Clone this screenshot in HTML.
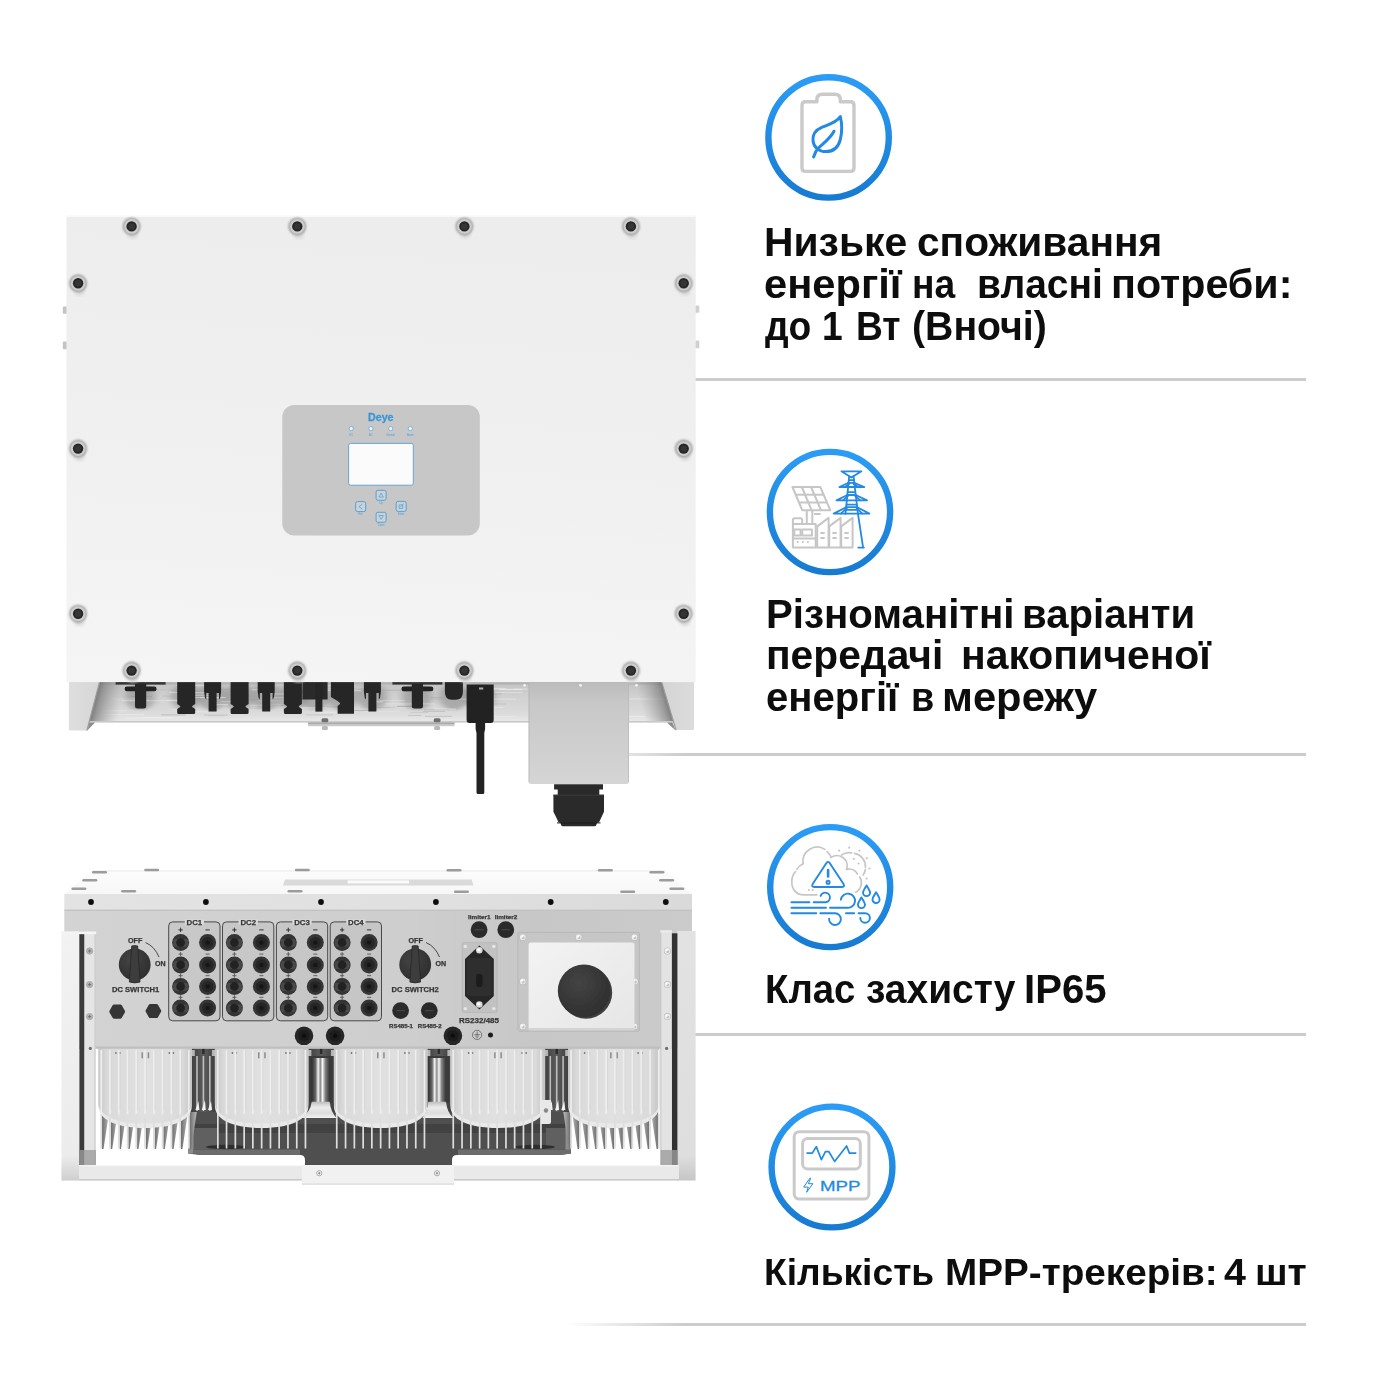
<!DOCTYPE html>
<html lang="uk">
<head>
<meta charset="utf-8">
<title>Deye inverter</title>
<style>
html,body{margin:0;padding:0;background:#fff;}
body{width:1400px;height:1400px;position:relative;overflow:hidden;font-family:"Liberation Sans",sans-serif;}
.ln{position:absolute;left:565px;width:741px;height:3px;background:linear-gradient(90deg,rgba(204,204,204,0) 0,#cccccc 120px,#cccccc 100%);}
.tb{margin:0;padding:0;}
.w{position:absolute;font-weight:bold;font-size:40px;line-height:50px;color:#0d0d0d;white-space:nowrap;transform-origin:0 50%;}
.w.s{font-size:37.5px;}
svg{position:absolute;left:0;top:0;}
</style>
</head>
<body>
<!-- divider lines -->
<div class="ln" style="top:378px"></div>
<div class="ln" style="top:753px"></div>
<div class="ln" style="top:1033px"></div>
<div class="ln" style="top:1323px"></div>

<!-- text -->
<p class="tb">
<span class="w" style="left:764.4px;top:216.7px;transform:scaleX(1.0213)">Низьке</span> 
<span class="w" style="left:917.3px;top:216.7px;transform:scaleX(1.0169)">споживання</span> 
<span class="w" style="left:764.1px;top:258.6px;transform:scaleX(1.0412)">енергії</span> 
<span class="w" style="left:912.1px;top:258.6px;transform:scaleX(0.93)">на</span> 
<span class="w" style="left:976.8px;top:258.6px;transform:scaleX(0.9734)">власні</span> 
<span class="w" style="left:1110.5px;top:258.6px;transform:scaleX(1.0308)">потреби:</span> 
<span class="w" style="left:765.1px;top:300.5px;transform:scaleX(0.93)">до</span> 
<span class="w" style="left:822.4px;top:300.5px;transform:scaleX(0.93)">1</span> 
<span class="w" style="left:855.6px;top:300.5px;transform:scaleX(0.93)">Вт</span> 
<span class="w" style="left:911.9px;top:300.5px;transform:scaleX(0.9806)">(Вночі)</span>
</p>
<p class="tb">
<span class="w" style="left:765.9px;top:588.6px;transform:scaleX(1.0054)">Різноманітні</span> 
<span class="w" style="left:1022.4px;top:588.6px;transform:scaleX(1.0042)">варіанти</span> 
<span class="w" style="left:765.8px;top:630.3px;transform:scaleX(1.0185)">передачі</span> 
<span class="w" style="left:960.9px;top:630.3px;transform:scaleX(1.0223)">накопиченої</span> 
<span class="w" style="left:765.7px;top:672px;transform:scaleX(1.0015)">енергії</span> 
<span class="w" style="left:910.6px;top:672px;transform:scaleX(0.945)">в</span> 
<span class="w" style="left:941.7px;top:672px;transform:scaleX(1.0441)">мережу</span>
</p>
<p class="tb">
<span class="w" style="left:764.9px;top:964px;transform:scaleX(0.9578)">Клас</span> 
<span class="w" style="left:865.7px;top:964px;transform:scaleX(0.9737)">захисту</span> 
<span class="w" style="left:1024.4px;top:964px;transform:scaleX(1.0026)">IP65</span>
</p>
<p class="tb">
<span class="w s" style="left:763.8px;top:1247px;transform:scaleX(0.9916)">Кількість</span> 
<span class="w s" style="left:944.9px;top:1247px;transform:scaleX(1.0314)">MPP-трекерів:</span> 
<span class="w s" style="left:1224.4px;top:1247px;transform:scaleX(1.05)">4</span> 
<span class="w s" style="left:1254.5px;top:1247px;transform:scaleX(1.0435)">шт</span>
</p>

<!-- ICONS -->
<svg id="icons" width="1400" height="1400" viewBox="0 0 1400 1400">
<defs>
<linearGradient id="ring" x1="0" y1="0" x2="0" y2="1"><stop offset="0" stop-color="#2b9cf5"/><stop offset="1" stop-color="#177bd2"/></linearGradient>
</defs>
<g fill="none" stroke="url(#ring)" stroke-width="6.4">
<circle cx="828.6" cy="137.4" r="60.2"/>
<circle cx="830" cy="512" r="60.1"/>
<circle cx="830.2" cy="887.1" r="60"/>
<circle cx="832" cy="1167" r="60.4"/>
</g>
<g id="icon1" fill="none" stroke-linecap="round" stroke-linejoin="round">
<path d="M802 105.2Q802 101.7 805.5 101.7H816.9V99.8Q816.9 94.3 822.4 94.3H834.8Q840.3 94.3 840.3 99.8V101.7H850.5Q854 101.7 854 105.2V167.9Q854 171.4 850.5 171.4H805.5Q802 171.4 802 167.9Z" stroke="#cacaca" stroke-width="3.4"/>
<path d="M840.3 116.6C836.5 123 827 125.2 821.3 127.6C815.2 130.2 812.6 135.2 813 140.6C813.5 147.2 819 151.6 826 151.6C833 151.6 838.2 147.4 840.2 140C842.2 132 842.2 124 840.3 116.6Z" stroke="#2389e2" stroke-width="3"/>
<path d="M834 131.2C830 139 822.5 143.8 818.4 148C815.7 150.7 814.6 153.6 813.6 157" stroke="#2389e2" stroke-width="3"/>
</g>
<g id="icon2g" fill="none" stroke="#c6c6c6" stroke-width="2" stroke-linejoin="round"><path d="M792.5 487.0L820.3 487.0L830.3 510.2L802.2 510.2Z" /><path d="M795.8 494.7L823.6 494.7"/><path d="M801.8 487.0L811.6 510.2"/><path d="M799.0 502.5L827.0 502.5"/><path d="M811.0 487.0L821.0 510.2"/><path d="M806.8 510.2V523.6M812.3 510.2V523.6M814.0 513.9H820.6"/><path d="M792.9 547.6V520.1Q792.9 518.2 794.8 518.2H800.3Q802.2 518.2 802.2 520.1V523.9H815.7V547.6"/><path d="M792.9 523.9H802.2M792.9 538.4H815.7"/><rect x="794.3" y="529.6" width="6.3" height="5.9"/><rect x="802.2" y="529.6" width="9.7" height="5.9"/><path d="M796.9 542.1h1.6M802.0 542.1h1.6M807.1 542.1h1.6" stroke-width="2"/><path d="M817.2 547.6V526.4L828.6 517.9V547.6"/><path d="M820.4 533.1H824.7M820.4 538.1H824.7" stroke-width="2"/><path d="M829.2 547.6V526.4L840.6 517.9V547.6"/><path d="M832.4 533.1H836.7M832.4 538.1H836.7" stroke-width="2"/><path d="M841.2 547.6V526.4L852.6 517.9V547.6"/><path d="M844.4 533.1H848.7M844.4 538.1H848.7" stroke-width="2"/><path d="M792.3 547.6H853.2"/></g>
<g id="icon2b" fill="none" stroke="#2389e2" stroke-width="1.8" stroke-linejoin="round" stroke-linecap="round"><path d="M841.4 471.3H861.4L851.4 477.5Z"/><path d="M849.2 476.1L845.5 513.9M853.5 476.1L858.0 513.9L863.1 547.6M858.3 547.6H863.9"/><path d="M848.5 482.8L839.4 487.0H864.3L854.2 482.8"/><path d="M848.3 482.8H854.5"/><path d="M844.9 487.0L849.2 483.7M858.3 487.0L853.5 483.7"/><path d="M847.4 495.0L836.5 500.4H867.0L855.7 495.0"/><path d="M847.1 495.0H855.9"/><path d="M842.9 500.4L848.1 495.9M860.5 500.4L855.0 495.9"/><path d="M846.2 507.2L833.7 513.6H869.4L857.2 507.2"/><path d="M846.0 507.2H857.4"/><path d="M840.9 513.6L846.9 508.1M862.4 513.6L856.5 508.1"/><path d="M848.9 480.1H854.0"/><path d="M847.7 492.1H855.1"/><path d="M846.6 504.7H856.6"/><path d="M846.0 509.9H857.4"/></g>
<g id="icon3g" fill="none" stroke="#c6c6c6" stroke-width="1.7" stroke-linecap="round"><path d="M816.9 894.8H803.7C795.7 894.8 791.4 888.9 791.8 880.9C792.1 876.5 793.7 873.5 795.5 871.7"/><path d="M796.9 869.4C798.6 866.6 800.9 864.6 803.1 863.7"/><path d="M803.1 863.7A14.3 14.3 0 0 1 824.9 849.4"/><path d="M827.1 851.7A14.3 14.3 0 0 1 831.1 857.4"/><path d="M831.1 857.4A10.3 10.3 0 0 1 846.6 869.4"/><path d="M846.6 869.4A9.7 9.7 0 0 1 857.4 874.0"/><path d="M859.7 876.9A10.9 10.9 0 0 1 855.7 892.3"/><path d="M841.4 855.1A13.1 13.1 0 0 1 851.7 852.9"/><path d="M854.6 853.4A13.1 13.1 0 0 1 865.4 867.1"/><path d="M865.4 869.4A13.1 13.1 0 0 1 863.1 875.1"/><g fill="#c6c6c6" stroke="none"><circle cx="839.1" cy="850.6" r="1.1"/><circle cx="849.2" cy="847.7" r="1.1"/><circle cx="859.5" cy="850.6" r="1.1"/><circle cx="866.8" cy="858.2" r="1.1"/><circle cx="869.4" cy="868.5" r="1.1"/><circle cx="866.6" cy="878.6" r="1.1"/><circle cx="853.8" cy="858.9" r="1.1"/><circle cx="858.6" cy="863.5" r="1.1"/><circle cx="808.9" cy="890.0" r="1.1"/><circle cx="812.6" cy="890.0" r="1.1"/></g></g>
<g id="icon3b" fill="none" stroke="#2389e2" stroke-width="1.9" stroke-linecap="round" stroke-linejoin="round"><path d="M826.6 862.8Q828.1 860.9 829.5 862.8L843.7 884.3Q844.9 886.8 842.0 887.0H814.2Q811.4 886.8 812.5 884.3Z"/><path d="M828.1 870.0V876.5" stroke-width="2.6"/><circle cx="828.1" cy="882.2" r="1.6"/><path d="M791.4 902.3H809.4M813.7 902.3H824.9A4.8 4.8 0 1 0 820.6 895.9"/><path d="M791.4 907.8H826.0M830.0 907.8H847.1A7.1 7.1 0 1 0 840.9 899.7"/><path d="M791.4 913.2H816.3M820.3 913.2H835.1A5.9 5.9 0 1 1 829.1 918.6"/><path d="M846.0 913.2H854.2M858.6 913.2H865.2A4.8 4.8 0 1 1 860.3 918.0"/><path d="M866.6 885.4C868.3 888.5 870.1 890.6 870.1 892.6A3.5 3.5 0 0 1 863.0 892.6C863.0 890.6 864.8 888.5 866.6 885.4Z"/><path d="M876.1 892.3C877.8 895.4 879.6 897.4 879.6 899.5A3.5 3.5 0 0 1 872.5 899.5C872.5 897.4 874.3 895.4 876.1 892.3Z"/><path d="M861.4 897.4C863.2 900.5 865.0 902.6 865.0 904.6A3.5 3.5 0 0 1 857.9 904.6C857.9 902.6 859.7 900.5 861.4 897.4Z"/></g>
<g id="icon4" fill="none" stroke-linecap="round" stroke-linejoin="round">
<rect x="794.2" y="1131.7" width="74.7" height="67.4" rx="5" stroke="#cacaca" stroke-width="3"/>
<rect x="802.6" y="1138.6" width="57.7" height="30.3" rx="5" stroke="#cacaca" stroke-width="3"/>
<path d="M807.1 1153.1H812.3L816.3 1146.6L821.4 1159.7L825.4 1151.7H828.9L834.6 1161.4L846.6 1146L849.4 1153.1H855.7" stroke="#2389e2" stroke-width="1.7"/>
<path d="M809.6 1178.6L803.7 1187.1H808.3L806.6 1192.3L812.9 1183.7H808.3L810.6 1178.6Z" stroke="#2389e2" stroke-width="1"/>
<text x="820" y="1191.2" font-family="'Liberation Sans',sans-serif" font-size="14.6" fill="#2389e2" stroke="#2389e2" stroke-width="0.3" textLength="40.5" lengthAdjust="spacingAndGlyphs">MPP</text>
</g>
</svg>

<!-- PRODUCT -->
<svg id="prod" width="1400" height="1400" viewBox="0 0 1400 1400">
<defs>
<!--DEFS-->
<filter id="soft" x="-5%" y="-5%" width="110%" height="110%"><feGaussianBlur stdDeviation="0.45"/></filter>
<filter id="b05"><feGaussianBlur stdDeviation="0.6"/></filter>
<filter id="b1"><feGaussianBlur stdDeviation="1.1"/></filter>
<filter id="b2"><feGaussianBlur stdDeviation="2"/></filter>
<linearGradient id="face" x1="0.1" y1="0" x2="0" y2="1"><stop offset="0" stop-color="#ededed"/><stop offset="0.45" stop-color="#f0f0f0"/><stop offset="1" stop-color="#f5f5f5"/></linearGradient>
<linearGradient id="plate" x1="0" y1="0" x2="0" y2="1"><stop offset="0" stop-color="#c2c2c2"/><stop offset="0.35" stop-color="#d0d0d0"/><stop offset="0.8" stop-color="#dcdcdc"/><stop offset="0.955" stop-color="#e8e8e8"/><stop offset="0.96" stop-color="#c4c4c4"/><stop offset="1" stop-color="#d8d8d8"/></linearGradient>
<linearGradient id="dkL" x1="0" y1="0" x2="1" y2="0"><stop offset="0" stop-color="#6a6a6a" stop-opacity="0.95"/><stop offset="0.25" stop-color="#7e7e7e" stop-opacity="0.7"/><stop offset="1" stop-color="#9a9a9a" stop-opacity="0"/></linearGradient>
<linearGradient id="dkR" x1="1" y1="0" x2="0" y2="0"><stop offset="0" stop-color="#6a6a6a" stop-opacity="0.95"/><stop offset="0.25" stop-color="#7e7e7e" stop-opacity="0.7"/><stop offset="1" stop-color="#9a9a9a" stop-opacity="0"/></linearGradient>
<filter id="bh" x="-30%" y="-30%" width="160%" height="160%"><feGaussianBlur stdDeviation="3.5 1.2"/></filter>
<linearGradient id="finL" x1="0" y1="0" x2="1" y2="0"><stop offset="0" stop-color="#dedede"/><stop offset="1" stop-color="#d6d6d6"/></linearGradient>
<linearGradient id="finR" x1="0" y1="0" x2="1" y2="0"><stop offset="0" stop-color="#d4d4d4"/><stop offset="1" stop-color="#dcdcdc"/></linearGradient>
<linearGradient id="gbox" x1="0" y1="0" x2="0" y2="1"><stop offset="0" stop-color="#bcbcbc"/><stop offset="0.2" stop-color="#c8c8c8"/><stop offset="1" stop-color="#d5d5d5"/></linearGradient>
<g id="scr"><ellipse cx="1.2" cy="6" rx="5" ry="6" fill="#d2d2d2" filter="url(#b2)"/><circle r="9" fill="#a6a6a6" filter="url(#b1)"/><circle r="7.4" fill="#cdcdcd" filter="url(#b05)"/><circle r="5.2" fill="#272727"/><circle r="3.2" fill="#363636" filter="url(#b05)"/></g>
<path id="mcA" d="M0 0H18V22L15 24V25L18 27V30.5Q18 32 16.5 32H1.5Q0 32 0 30.5V27L3 25V24L0 22Z" fill="#252525"/>
<path id="mcB" d="M0.5 0H17.5V9.5L16.6 16L15.4 17.5V11H13V29.5H5V11H2.6V17.5L1.4 16L0.5 9.5Z" fill="#252525"/>
<g id="gl"><rect x="-25" y="-2" width="50" height="2.6" fill="#333"/><rect x="-16" y="2.6" width="32" height="4.6" rx="2.3" fill="#222"/><path d="M-5.6 0H5.6V22Q5.6 24.5 3 24.5H-3Q-5.6 24.5 -5.6 22Z" fill="#262626"/></g>

<linearGradient id="bpanel" x1="0" y1="0" x2="1" y2="0"><stop offset="0" stop-color="#d3d3d3"/><stop offset="0.55" stop-color="#cecece"/><stop offset="0.75" stop-color="#c7c7c7"/><stop offset="1" stop-color="#cbcbcb"/></linearGradient>
<linearGradient id="blid" x1="0" y1="0" x2="0" y2="1"><stop offset="0" stop-color="#fcfcfc"/><stop offset="1" stop-color="#f7f7f7"/></linearGradient>
<linearGradient id="bstrip" x1="0" y1="0" x2="1" y2="0"><stop offset="0" stop-color="#e3e3e3"/><stop offset="0.6" stop-color="#e0e0e0"/><stop offset="1" stop-color="#dadada"/></linearGradient>
<linearGradient id="ufill" x1="0" y1="0" x2="1" y2="0"><stop offset="0" stop-color="#c8c8c8"/><stop offset="0.1" stop-color="#dadada"/><stop offset="0.5" stop-color="#e1e1e1"/><stop offset="0.9" stop-color="#dadada"/><stop offset="1" stop-color="#c4c4c4"/></linearGradient>
<linearGradient id="gapd" x1="0" y1="0" x2="1" y2="0"><stop offset="0" stop-color="#3e3e3e"/><stop offset="0.5" stop-color="#5c5c5c"/><stop offset="1" stop-color="#3e3e3e"/></linearGradient>
<linearGradient id="wedge" x1="0" y1="0" x2="1" y2="0"><stop offset="0" stop-color="#6e6e6e"/><stop offset="1" stop-color="#c4c4c4"/></linearGradient>
<linearGradient id="wedgeR" x1="0" y1="0" x2="1" y2="0"><stop offset="0" stop-color="#c4c4c4"/><stop offset="1" stop-color="#6e6e6e"/></linearGradient>
<linearGradient id="gapg" x1="0" y1="0" x2="1" y2="0"><stop offset="0" stop-color="#2e2e2e"/><stop offset="0.22" stop-color="#6a6a6a"/><stop offset="0.36" stop-color="#f4f4f4"/><stop offset="0.48" stop-color="#8a8a8a"/><stop offset="0.6" stop-color="#f6f6f6"/><stop offset="0.76" stop-color="#808080"/><stop offset="1" stop-color="#333"/></linearGradient>
<linearGradient id="flare" x1="0" y1="0" x2="0" y2="1"><stop offset="0" stop-color="#bdbdbd"/><stop offset="0.35" stop-color="#ececec"/><stop offset="0.7" stop-color="#dcdcdc"/><stop offset="1" stop-color="#f2f2f2"/></linearGradient>
<linearGradient id="brk" x1="0" y1="0" x2="0" y2="1"><stop offset="0" stop-color="#f2f2f2"/><stop offset="0.9" stop-color="#ececec"/><stop offset="1" stop-color="#cfcfcf"/></linearGradient>
<linearGradient id="brkR" x1="0" y1="0" x2="0" y2="1"><stop offset="0" stop-color="#e2e2e2"/><stop offset="0.9" stop-color="#dedede"/><stop offset="1" stop-color="#c6c6c6"/></linearGradient>
<linearGradient id="wbox" x1="0" y1="0" x2="1" y2="1"><stop offset="0" stop-color="#f3f3f3"/><stop offset="1" stop-color="#e6e6e6"/></linearGradient>
<radialGradient id="knob" cx="0.4" cy="0.35" r="0.75"><stop offset="0" stop-color="#444"/><stop offset="1" stop-color="#2c2c2c"/></radialGradient>
<g id="dcc"><circle r="8.5" fill="#343434"/><circle r="5.6" fill="#262626"/><circle r="2.2" fill="#161616"/></g>
<g id="dcp"><circle r="8.5" fill="#343434"/><rect x="-7.4" y="-3.6" width="14.8" height="7.8" rx="2" fill="#4a4a4a"/><circle r="4.4" fill="#242424"/></g>
<g id="plug"><circle r="8.4" fill="#2b2b2b"/><rect x="-4.2" y="-0.6" width="8.4" height="1.2" fill="#444"/></g>
<g id="rnd"><circle r="9.3" fill="#262626"/><circle r="5.6" fill="#1a1a1a"/><circle r="2" fill="#0c0c0c"/></g>
<g id="sscr"><circle r="3.5" fill="#b9b9b9"/><circle r="2.9" fill="#ededed"/><circle cx="0.4" cy="0.5" r="1.5" fill="#c4c4c4"/><circle cx="-0.7" cy="-0.8" r="1" fill="#fff"/></g>
<g id="bscr"><circle r="3.2" fill="#b6b6b6"/><circle r="3.2" fill="none" stroke="#a0a0a0" stroke-width="0.6"/><path d="M-1.7 0H1.7M0 -1.7V1.7" stroke="#6a6a6a" stroke-width="0.8"/></g>

<!--/DEFS-->
</defs>
<!--TOPUNIT-->
<g id="topunit" filter="url(#soft)">
<rect x="62.8" y="306.4" width="4.5" height="7.4" rx="1" fill="#c4c4c4"/>
<rect x="695" y="305.4" width="4.3" height="7.4" rx="1" fill="#d0d0d0"/>
<rect x="62.8" y="341.4" width="4.5" height="7.9" rx="1" fill="#c4c4c4"/>
<rect x="695" y="340.4" width="4.3" height="7.9" rx="1" fill="#d0d0d0"/>
<rect x="86" y="681" width="590" height="41.8" fill="url(#plate)"/>
<g><ellipse cx="140" cy="697" rx="15" ry="13" fill="#6f6f6f" opacity="0.42" filter="url(#bh)"/><ellipse cx="186" cy="697" rx="15" ry="13" fill="#6f6f6f" opacity="0.42" filter="url(#bh)"/><ellipse cx="212" cy="697" rx="15" ry="13" fill="#6f6f6f" opacity="0.42" filter="url(#bh)"/><ellipse cx="239" cy="697" rx="15" ry="13" fill="#6f6f6f" opacity="0.42" filter="url(#bh)"/><ellipse cx="266" cy="697" rx="15" ry="13" fill="#6f6f6f" opacity="0.42" filter="url(#bh)"/><ellipse cx="293" cy="697" rx="15" ry="13" fill="#6f6f6f" opacity="0.42" filter="url(#bh)"/><ellipse cx="315" cy="697" rx="15" ry="13" fill="#6f6f6f" opacity="0.42" filter="url(#bh)"/><ellipse cx="342" cy="697" rx="15" ry="13" fill="#6f6f6f" opacity="0.42" filter="url(#bh)"/><ellipse cx="372" cy="697" rx="15" ry="13" fill="#6f6f6f" opacity="0.42" filter="url(#bh)"/><ellipse cx="417" cy="697" rx="15" ry="13" fill="#6f6f6f" opacity="0.42" filter="url(#bh)"/><ellipse cx="454" cy="697" rx="15" ry="13" fill="#6f6f6f" opacity="0.42" filter="url(#bh)"/><ellipse cx="480" cy="697" rx="15" ry="13" fill="#6f6f6f" opacity="0.42" filter="url(#bh)"/><rect x="397" y="706.1" width="19" height="0.9" fill="#8c8c8c" opacity="0.50"/><rect x="230" y="687.6" width="32" height="0.9" fill="#b0b0b0" opacity="0.51"/><rect x="305" y="684.4" width="24" height="0.9" fill="#a0a0a0" opacity="0.37"/><rect x="216" y="689.1" width="28" height="0.9" fill="#8c8c8c" opacity="0.29"/><rect x="408" y="715.1" width="13" height="0.9" fill="#8c8c8c" opacity="0.31"/><rect x="252" y="689.3" width="14" height="0.9" fill="#f4f4f4" opacity="0.54"/><rect x="376" y="689.8" width="25" height="0.9" fill="#a0a0a0" opacity="0.54"/><rect x="297" y="689.3" width="19" height="0.9" fill="#a0a0a0" opacity="0.33"/><rect x="272" y="684.1" width="24" height="0.9" fill="#f4f4f4" opacity="0.27"/><rect x="296" y="694.1" width="22" height="0.9" fill="#b0b0b0" opacity="0.39"/><rect x="176" y="684.7" width="33" height="0.9" fill="#f4f4f4" opacity="0.50"/><rect x="132" y="696.0" width="20" height="0.9" fill="#8c8c8c" opacity="0.39"/><rect x="449" y="690.3" width="33" height="0.9" fill="#a0a0a0" opacity="0.53"/><rect x="326" y="700.8" width="19" height="0.9" fill="#b0b0b0" opacity="0.28"/><rect x="483" y="693.5" width="19" height="0.9" fill="#b0b0b0" opacity="0.53"/><rect x="162" y="695.6" width="22" height="0.9" fill="#a0a0a0" opacity="0.35"/><rect x="473" y="694.1" width="17" height="0.9" fill="#a0a0a0" opacity="0.49"/><rect x="425" y="715.9" width="27" height="0.9" fill="#a0a0a0" opacity="0.47"/><rect x="196" y="697.0" width="23" height="0.9" fill="#a0a0a0" opacity="0.47"/><rect x="297" y="697.5" width="21" height="0.9" fill="#8c8c8c" opacity="0.54"/><rect x="423" y="710.8" width="22" height="0.9" fill="#a0a0a0" opacity="0.54"/><rect x="424" y="709.2" width="25" height="0.9" fill="#8c8c8c" opacity="0.30"/><rect x="262" y="693.4" width="30" height="0.9" fill="#b0b0b0" opacity="0.53"/><rect x="416" y="698.5" width="33" height="0.9" fill="#b0b0b0" opacity="0.46"/><rect x="284" y="696.9" width="17" height="0.9" fill="#a0a0a0" opacity="0.28"/><rect x="380" y="700.0" width="25" height="0.9" fill="#f4f4f4" opacity="0.30"/><rect x="318" y="711.8" width="29" height="0.9" fill="#f4f4f4" opacity="0.27"/><rect x="289" y="708.3" width="26" height="0.9" fill="#f4f4f4" opacity="0.42"/><rect x="434" y="708.6" width="22" height="0.9" fill="#f4f4f4" opacity="0.54"/><rect x="288" y="684.4" width="24" height="0.9" fill="#f4f4f4" opacity="0.35"/><rect x="250" y="704.7" width="30" height="0.9" fill="#f4f4f4" opacity="0.35"/><rect x="431" y="697.1" width="33" height="0.9" fill="#a0a0a0" opacity="0.51"/><rect x="468" y="694.7" width="19" height="0.9" fill="#a0a0a0" opacity="0.41"/><rect x="189" y="711.3" width="19" height="0.9" fill="#f4f4f4" opacity="0.46"/><rect x="478" y="703.7" width="20" height="0.9" fill="#b0b0b0" opacity="0.34"/><rect x="371" y="707.1" width="25" height="0.9" fill="#8c8c8c" opacity="0.31"/><rect x="402" y="691.0" width="26" height="0.9" fill="#a0a0a0" opacity="0.44"/><rect x="145" y="689.3" width="34" height="0.9" fill="#a0a0a0" opacity="0.28"/><rect x="200" y="697.3" width="23" height="0.9" fill="#f4f4f4" opacity="0.36"/><rect x="391" y="707.0" width="15" height="0.9" fill="#f4f4f4" opacity="0.25"/><rect x="320" y="711.7" width="31" height="0.9" fill="#f4f4f4" opacity="0.54"/><rect x="371" y="701.4" width="12" height="0.9" fill="#f4f4f4" opacity="0.54"/><rect x="271" y="697.4" width="30" height="0.9" fill="#f4f4f4" opacity="0.39"/><rect x="204" y="714.6" width="24" height="0.9" fill="#a0a0a0" opacity="0.43"/><rect x="294" y="696.2" width="26" height="0.9" fill="#f4f4f4" opacity="0.42"/><rect x="410" y="712.0" width="18" height="0.9" fill="#b0b0b0" opacity="0.38"/><rect x="228" y="706.7" width="22" height="0.9" fill="#b0b0b0" opacity="0.54"/><rect x="208" y="715.4" width="16" height="0.9" fill="#b0b0b0" opacity="0.33"/><rect x="115" y="699.7" width="34" height="0.9" fill="#f4f4f4" opacity="0.29"/><rect x="111" y="698.2" width="25" height="0.9" fill="#f4f4f4" opacity="0.26"/><rect x="221" y="701.0" width="10" height="0.9" fill="#f4f4f4" opacity="0.32"/><rect x="346" y="692.6" width="16" height="0.9" fill="#a0a0a0" opacity="0.47"/><rect x="245" y="699.2" width="25" height="0.9" fill="#8c8c8c" opacity="0.25"/><rect x="192" y="694.8" width="23" height="0.9" fill="#f4f4f4" opacity="0.47"/><rect x="129" y="707.8" width="19" height="0.9" fill="#a0a0a0" opacity="0.26"/><rect x="255" y="687.4" width="26" height="0.9" fill="#a0a0a0" opacity="0.25"/><rect x="306" y="714.5" width="27" height="0.9" fill="#b0b0b0" opacity="0.51"/><rect x="301" y="707.0" width="26" height="0.9" fill="#f4f4f4" opacity="0.39"/><rect x="172" y="708.9" width="10" height="0.9" fill="#f4f4f4" opacity="0.44"/><rect x="353" y="699.3" width="13" height="0.9" fill="#b0b0b0" opacity="0.54"/><rect x="345" y="710.0" width="24" height="0.9" fill="#8c8c8c" opacity="0.47"/><rect x="266" y="705.2" width="29" height="0.9" fill="#8c8c8c" opacity="0.35"/><rect x="319" y="706.4" width="34" height="0.9" fill="#8c8c8c" opacity="0.29"/><rect x="161" y="714.5" width="25" height="0.9" fill="#a0a0a0" opacity="0.55"/><rect x="492" y="703.5" width="14" height="0.9" fill="#b0b0b0" opacity="0.49"/><rect x="186" y="687.5" width="11" height="0.9" fill="#b0b0b0" opacity="0.47"/><rect x="235" y="707.8" width="24" height="0.9" fill="#a0a0a0" opacity="0.25"/><rect x="166" y="699.7" width="24" height="0.9" fill="#f4f4f4" opacity="0.52"/><rect x="214" y="704.2" width="14" height="0.9" fill="#f4f4f4" opacity="0.52"/><rect x="367" y="686.0" width="15" height="0.9" fill="#a0a0a0" opacity="0.33"/><rect x="513" y="688.5" width="46" height="0.8" fill="#ffffff" opacity="0.27"/><rect x="304" y="690.1" width="57" height="0.8" fill="#ffffff" opacity="0.41"/><rect x="460" y="706.7" width="24" height="0.8" fill="#ffffff" opacity="0.23"/><rect x="169" y="692.1" width="50" height="0.8" fill="#ffffff" opacity="0.46"/><rect x="364" y="711.1" width="36" height="0.8" fill="#ffffff" opacity="0.21"/><rect x="499" y="689.1" width="23" height="0.8" fill="#ffffff" opacity="0.49"/><rect x="475" y="687.9" width="31" height="0.8" fill="#ffffff" opacity="0.49"/><rect x="466" y="688.8" width="61" height="0.8" fill="#ffffff" opacity="0.39"/><rect x="295" y="695.3" width="32" height="0.8" fill="#ffffff" opacity="0.38"/><rect x="292" y="688.6" width="39" height="0.8" fill="#ffffff" opacity="0.45"/><rect x="456" y="698.7" width="60" height="0.8" fill="#ffffff" opacity="0.46"/><rect x="385" y="703.5" width="50" height="0.8" fill="#ffffff" opacity="0.42"/><rect x="318" y="685.1" width="25" height="0.8" fill="#ffffff" opacity="0.26"/><rect x="122" y="700.4" width="64" height="0.8" fill="#ffffff" opacity="0.43"/><rect x="100" y="714.3" width="44" height="0.8" fill="#ffffff" opacity="0.39"/><rect x="336" y="687.4" width="43" height="0.8" fill="#ffffff" opacity="0.25"/><rect x="187" y="697.1" width="39" height="0.8" fill="#ffffff" opacity="0.46"/><rect x="184" y="693.4" width="33" height="0.8" fill="#ffffff" opacity="0.25"/><rect x="258" y="700.4" width="32" height="0.8" fill="#ffffff" opacity="0.21"/><rect x="608" y="715.9" width="38" height="0.8" fill="#ffffff" opacity="0.41"/><rect x="471" y="716.1" width="44" height="0.8" fill="#ffffff" opacity="0.24"/><rect x="468" y="706.9" width="35" height="0.8" fill="#ffffff" opacity="0.42"/><rect x="190" y="684.8" width="30" height="0.8" fill="#ffffff" opacity="0.27"/><rect x="143" y="717.1" width="40" height="0.8" fill="#ffffff" opacity="0.31"/><rect x="272" y="693.6" width="43" height="0.8" fill="#ffffff" opacity="0.42"/><rect x="495" y="692.2" width="28" height="0.8" fill="#ffffff" opacity="0.40"/><rect x="617" y="698.6" width="52" height="0.8" fill="#ffffff" opacity="0.49"/><rect x="103" y="710.5" width="23" height="0.8" fill="#ffffff" opacity="0.32"/><rect x="125" y="717.6" width="47" height="0.8" fill="#ffffff" opacity="0.36"/><rect x="293" y="686.4" width="25" height="0.8" fill="#ffffff" opacity="0.47"/></g>
<rect x="92" y="681" width="578" height="3.5" fill="#9a9a9a" opacity="0.5" filter="url(#b1)"/>
<g transform="translate(97.5 681.5) skewX(-14.2)"><rect x="0" y="0" width="30" height="39.6" fill="url(#dkL)"/></g>
<g transform="translate(664.4 681.5) skewX(15.3)"><rect x="-30" y="0" width="30" height="39.6" fill="url(#dkR)"/></g>
<path d="M89.4 722.6L87.2 730.4L95 722.6Z" fill="#8a8a8a"/><path d="M672.4 722.6L675.6 730.4L667 722.6Z" fill="#8a8a8a"/>
<path d="M68.9 681.5H99.7L86.9 730.6H70.4Q68.9 730.6 68.9 729Z" fill="url(#finL)"/>
<path d="M661.5 681.5H694V728.5Q694 730 692.5 730H676Z" fill="url(#finR)"/>
<path d="M99.7 681.5L86.9 730.6" stroke="#9c9c9c" stroke-width="1.2" fill="none"/><path d="M661.5 681.5L676 730" stroke="#9c9c9c" stroke-width="1.2" fill="none"/>
<rect x="308" y="722.6" width="146.5" height="3.6" fill="#c9c9c9"/><rect x="308" y="722.6" width="146.5" height="1.2" fill="#9f9f9f"/>
<rect x="321.5" y="718.3" width="6.8" height="4" rx="1.5" fill="#6e6e6e"/><rect x="321.9" y="726" width="6" height="4" rx="1.5" fill="#b9b9b9"/>
<rect x="433.70000000000005" y="718.3" width="6.8" height="4" rx="1.5" fill="#6e6e6e"/><rect x="434.1" y="726" width="6" height="4" rx="1.5" fill="#b9b9b9"/>
<use href="#gl" x="140.6" y="684"/>
<use href="#mcA" x="177.2" y="682"/>
<use href="#mcA" x="230.6" y="682"/>
<use href="#mcA" x="283.9" y="682"/>
<use href="#mcB" x="203.6" y="682"/>
<use href="#mcB" x="257.2" y="682"/>
<rect x="302.4" y="682" width="25.2" height="17.5" fill="#2a2a2a"/><rect x="315.4" y="682" width="7" height="29.6" fill="#252525"/>
<path d="M330.9 682H354V713.8H337.6V706L340 704V703L337.6 701L330.9 697Z" fill="#252525"/>
<use href="#mcB" x="363.4" y="682"/>
<use href="#gl" x="417.4" y="684" />
<path d="M444.9 682H462.9V692Q462.9 699.7 456 699.7H451.8Q444.9 699.7 444.9 692Z" fill="#272727"/>
<path d="M466.6 684.5H493.7V720Q493.7 722.9 490.8 722.9H469.5Q466.6 722.9 466.6 720Z" fill="#242424"/>
<path d="M475.6 722H485.1V729L484.3 733V792.5Q484.3 794 482.8 794H478Q476.5 794 476.5 792.5V733L475.6 729Z" fill="#222"/>
<rect x="479" y="687.5" width="4.2" height="2" fill="#d0d0d0" opacity="0.8"/>
<path d="M528.6 683H629V781.5Q629 784 626.5 784H531.1Q528.6 784 528.6 781.5Z" fill="url(#gbox)"/>
<rect x="528.6" y="683" width="0.9" height="99" fill="#b0b0b0" opacity="0.7"/><rect x="628.1" y="683" width="0.9" height="99" fill="#b5b5b5" opacity="0.7"/>
<path d="M554.1 784.2H603V789.6H599.3V794.7H604V811.8L600.6 819Q600 822 597 823L596.3 825Q596 826.2 594.5 826.2H563Q561.4 826.2 561.1 825L560.5 823Q557.5 822 557 819L553.4 811.8V794.7H557.7V789.6H554.1Z" fill="#2b2b2a"/>
<rect x="557" y="822.4" width="43.5" height="1" fill="#1c1c1c"/><rect x="553.4" y="794.7" width="50.6" height="1" fill="#3a3a3a"/>
<rect x="66.5" y="215.7" width="629.2" height="466.4" fill="url(#face)"/>
<rect x="66.5" y="215.7" width="629.2" height="1.2" fill="#fafafa"/>
<circle cx="524.6" cy="685.3" r="1.4" fill="#f4f4f4"/>
<circle cx="580.5" cy="685.3" r="1.4" fill="#f4f4f4"/>
<circle cx="636.5" cy="685.3" r="1.4" fill="#f4f4f4"/>
<use href="#scr" x="131.6" y="226.4"/>
<use href="#scr" x="131.6" y="670.6"/>
<use href="#scr" x="297.3" y="226.4"/>
<use href="#scr" x="297.3" y="670.6"/>
<use href="#scr" x="464.4" y="226.4"/>
<use href="#scr" x="464.4" y="670.6"/>
<use href="#scr" x="630.9" y="226.4"/>
<use href="#scr" x="630.9" y="670.6"/>
<use href="#scr" x="78.1" y="283.3"/>
<use href="#scr" x="683.7" y="283.3"/>
<use href="#scr" x="78.1" y="448.6"/>
<use href="#scr" x="683.7" y="448.6"/>
<use href="#scr" x="78.1" y="613.7"/>
<use href="#scr" x="683.7" y="613.7"/>
<rect x="282.3" y="404.9" width="197.5" height="130.5" rx="12" fill="#c7c7c7"/>
<text x="368" y="421" font-family="'Liberation Sans',sans-serif" font-weight="bold" font-size="10.5" fill="#3a97d4" stroke="#3a97d4" stroke-width="0.3" textLength="25.5" lengthAdjust="spacingAndGlyphs">Deye</text>
<circle cx="351.2" cy="428.6" r="2.1" fill="#f2f2f2" stroke="#5aa6dc" stroke-width="0.7"/>
<text x="351.2" y="435.6" text-anchor="middle" font-family="'Liberation Sans',sans-serif" font-size="2.6" fill="#4a9fdc">DC</text>
<circle cx="370.9" cy="428.6" r="2.1" fill="#f2f2f2" stroke="#5aa6dc" stroke-width="0.7"/>
<text x="370.9" y="435.6" text-anchor="middle" font-family="'Liberation Sans',sans-serif" font-size="2.6" fill="#4a9fdc">AC</text>
<circle cx="390.7" cy="428.6" r="2.1" fill="#f2f2f2" stroke="#5aa6dc" stroke-width="0.7"/>
<text x="390.7" y="435.6" text-anchor="middle" font-family="'Liberation Sans',sans-serif" font-size="2.6" fill="#4a9fdc">Normal</text>
<circle cx="410.3" cy="428.6" r="2.1" fill="#f2f2f2" stroke="#5aa6dc" stroke-width="0.7"/>
<text x="410.3" y="435.6" text-anchor="middle" font-family="'Liberation Sans',sans-serif" font-size="2.6" fill="#4a9fdc">Alarm</text>
<rect x="348.6" y="443.4" width="64.7" height="41.8" rx="2" fill="#fbfbfb" stroke="#5a9fd6" stroke-width="0.9"/>
<g transform="translate(381.1 495.3)"><rect x="-5" y="-5" width="10" height="10" rx="1.8" fill="#ccd3d8" stroke="#4a9bd6" stroke-width="0.9"/><path d="M-2.2 1.8L0 -2.2L2.2 1.8Z" fill="none" stroke="#4a9bd6" stroke-width="0.7"/><text x="0" y="8.6" text-anchor="middle" font-family="'Liberation Sans',sans-serif" font-size="2.6" fill="#4a9fdc">Up</text></g>
<g transform="translate(360.7 506.6)"><rect x="-5" y="-5" width="10" height="10" rx="1.8" fill="#ccd3d8" stroke="#4a9bd6" stroke-width="0.9"/><path d="M1.6 -2.4L-1.8 0L1.6 2.4" fill="none" stroke="#4a9bd6" stroke-width="0.7"/><text x="0" y="8.6" text-anchor="middle" font-family="'Liberation Sans',sans-serif" font-size="2.6" fill="#4a9fdc">Esc</text></g>
<g transform="translate(401.2 506.4)"><rect x="-5" y="-5" width="10" height="10" rx="1.8" fill="#ccd3d8" stroke="#4a9bd6" stroke-width="0.9"/><path d="M-2 -1.5H1.5V2H-2ZM-0.8 0.6L2.4 -2.6" fill="none" stroke="#4a9bd6" stroke-width="0.7"/><text x="0" y="8.6" text-anchor="middle" font-family="'Liberation Sans',sans-serif" font-size="2.6" fill="#4a9fdc">Enter</text></g>
<g transform="translate(381.1 517.3)"><rect x="-5" y="-5" width="10" height="10" rx="1.8" fill="#ccd3d8" stroke="#4a9bd6" stroke-width="0.9"/><path d="M-2.2 -1.8L0 2.2L2.2 -1.8Z" fill="none" stroke="#4a9bd6" stroke-width="0.7"/><text x="0" y="8.6" text-anchor="middle" font-family="'Liberation Sans',sans-serif" font-size="2.6" fill="#4a9fdc">Down</text></g>
</g>
<!--/TOPUNIT-->
<!--BOTTOMUNIT-->
<g id="botunit" filter="url(#soft)">
<path d="M188 1108H571V1153.5L560 1155H457Q452 1155 452 1160V1166H305V1160Q305 1155 300 1155H200L188 1153.5Z" fill="#4f4f4f"/>
<rect x="193" y="1124" width="377" height="9" fill="#3e3e3e" opacity="0.7"/>
<rect x="193" y="1128" width="24" height="21" fill="#606060"/><rect x="546" y="1128" width="24" height="21" fill="#606060"/>
<path d="M188 1110L193.5 1110V1153.5H188Z" fill="#8c8c8c"/><path d="M565.5 1110H571V1153.5H565.5Z" fill="#8c8c8c"/>
<ellipse cx="226" cy="1147" rx="20" ry="2.2" fill="#2e2e2e"/><ellipse cx="535" cy="1147" rx="20" ry="2.2" fill="#2e2e2e"/>
<path d="M193 1149.5H300V1155H200L193 1153.5ZM458 1149.5H571V1153.5L560 1155H458Z" fill="#6c6c6c"/>
<path d="M102.0 1106L110.0 1106L103.5 1149L102.0 1149Z" fill="url(#wedge)"/><path d="M110.8 1106L118.7 1106L112.2 1149L110.8 1149Z" fill="url(#wedge)"/><path d="M119.6 1106L127.5 1106L121.0 1149L119.6 1149Z" fill="url(#wedge)"/><path d="M128.4 1106L136.3 1106L129.8 1149L128.4 1149Z" fill="url(#wedge)"/><path d="M137.1 1106L145.0 1106L138.5 1149L137.1 1149Z" fill="url(#wedge)"/><path d="M145.9 1106L153.8 1106L147.3 1149L145.9 1149Z" fill="url(#wedge)"/><path d="M154.7 1106L162.6 1106L156.1 1149L154.7 1149Z" fill="url(#wedge)"/><path d="M163.4 1106L171.3 1106L164.8 1149L163.4 1149Z" fill="url(#wedge)"/><path d="M172.2 1106L180.1 1106L173.6 1149L172.2 1149Z" fill="url(#wedge)"/><path d="M181.0 1106L188.9 1106L182.4 1149L181.0 1149Z" fill="url(#wedge)"/><path d="M189.8 1106L197.7 1106L191.2 1149L189.8 1149Z" fill="url(#wedge)"/><path d="M570.2 1106L562.4 1106L568.9 1149L570.2 1149Z" fill="url(#wedgeR)"/><path d="M579.0 1106L571.1 1106L577.6 1149L579.0 1149Z" fill="url(#wedgeR)"/><path d="M587.8 1106L579.9 1106L586.4 1149L587.8 1149Z" fill="url(#wedgeR)"/><path d="M596.6 1106L588.7 1106L595.2 1149L596.6 1149Z" fill="url(#wedgeR)"/><path d="M605.3 1106L597.4 1106L603.9 1149L605.3 1149Z" fill="url(#wedgeR)"/><path d="M614.1 1106L606.2 1106L612.7 1149L614.1 1149Z" fill="url(#wedgeR)"/><path d="M622.9 1106L615.0 1106L621.5 1149L622.9 1149Z" fill="url(#wedgeR)"/><path d="M631.6 1106L623.7 1106L630.2 1149L631.6 1149Z" fill="url(#wedgeR)"/><path d="M640.4 1106L632.5 1106L639.0 1149L640.4 1149Z" fill="url(#wedgeR)"/><path d="M649.2 1106L641.3 1106L647.8 1149L649.2 1149Z" fill="url(#wedgeR)"/><path d="M658.0 1106L650.1 1106L656.6 1149L658.0 1149Z" fill="url(#wedgeR)"/>
<rect x="190.8" y="1048" width="25.1" height="64" fill="url(#gapd)"/>
<rect x="202.2" y="1044" width="2.4" height="10" fill="#2a2a2a"/>
<rect x="189.8" y="1050" width="5" height="6" fill="#b5b5b5"/><rect x="211.9" y="1050" width="5" height="6" fill="#b5b5b5"/>
<rect x="307.4" y="1048" width="27.5" height="64" fill="url(#gapd)"/>
<rect x="319.9" y="1044" width="2.4" height="10" fill="#2a2a2a"/>
<rect x="306.4" y="1050" width="5" height="6" fill="#b5b5b5"/><rect x="330.9" y="1050" width="5" height="6" fill="#b5b5b5"/>
<rect x="426.4" y="1048" width="25.0" height="64" fill="url(#gapd)"/>
<rect x="437.7" y="1044" width="2.4" height="10" fill="#2a2a2a"/>
<rect x="425.4" y="1050" width="5" height="6" fill="#b5b5b5"/><rect x="447.4" y="1050" width="5" height="6" fill="#b5b5b5"/>
<rect x="544.1" y="1048" width="25.1" height="64" fill="url(#gapd)"/>
<rect x="555.5" y="1044" width="2.4" height="10" fill="#2a2a2a"/>
<rect x="543.1" y="1050" width="5" height="6" fill="#b5b5b5"/><rect x="565.2" y="1050" width="5" height="6" fill="#b5b5b5"/>
<rect x="308.7" y="1056" width="24.0" height="47" fill="#3a3a3a"/>
<rect x="311.7" y="1058" width="18.0" height="44.5" fill="url(#gapg)"/>
<path d="M311.7 1101.7H329.7Q330.7 1112 336.6 1118H300.6Q310.7 1112 311.7 1101.7Z" fill="url(#flare)"/>
<rect x="425.3" y="1056" width="23.7" height="47" fill="#3a3a3a"/>
<rect x="428.3" y="1058" width="17.7" height="44.5" fill="url(#gapg)"/>
<path d="M428.3 1101.7H446Q447.0 1112 453.2 1118H422.3Q427.3 1112 428.3 1101.7Z" fill="url(#flare)"/>
<path d="M98.3 1048H191.8V1106C191.8 1119 175.0 1128 145.1 1128C115.1 1128 98.3 1119 98.3 1106Z" fill="#e9e9e9"/>
<path d="M98.3 1048H191.8V1103C191.8 1115 175.0 1123.6 145.1 1123.6C115.1 1123.6 98.3 1115 98.3 1103Z" fill="url(#ufill)"/>
<rect x="141.5" y="1052.3" width="1.5" height="6" fill="#8c8c8c"/><rect x="147.7" y="1052.3" width="1.5" height="6" fill="#8c8c8c"/>
<rect x="115.2" y="1052.2" width="1.4" height="1.6" fill="#666"/><rect x="119.2" y="1052.2" width="1.4" height="1.6" fill="#666"/>
<rect x="168.7" y="1052.2" width="1.4" height="1.6" fill="#666"/><rect x="172.7" y="1052.2" width="1.4" height="1.6" fill="#666"/>
<rect x="100.4" y="1050" width="1.7" height="66" fill="#eeeeee"/><rect x="102.0" y="1050" width="0.8" height="60" fill="#cfcfcf" opacity="0.55"/>
<rect x="100.4" y="1114" width="1.7" height="34.5" fill="#dedede"/>
<rect x="109.1" y="1050" width="1.7" height="66" fill="#eeeeee"/><rect x="110.8" y="1050" width="0.8" height="60" fill="#cfcfcf" opacity="0.55"/>
<rect x="109.1" y="1114" width="1.7" height="34.5" fill="#dedede"/>
<rect x="117.9" y="1050" width="1.7" height="66" fill="#eeeeee"/><rect x="119.6" y="1050" width="0.8" height="60" fill="#cfcfcf" opacity="0.55"/>
<rect x="117.9" y="1114" width="1.7" height="34.5" fill="#dedede"/>
<rect x="126.7" y="1050" width="1.7" height="66" fill="#eeeeee"/><rect x="128.4" y="1050" width="0.8" height="60" fill="#cfcfcf" opacity="0.55"/>
<rect x="126.7" y="1114" width="1.7" height="34.5" fill="#dedede"/>
<rect x="135.4" y="1050" width="1.7" height="66" fill="#eeeeee"/><rect x="137.1" y="1050" width="0.8" height="60" fill="#cfcfcf" opacity="0.55"/>
<rect x="135.4" y="1114" width="1.7" height="34.5" fill="#dedede"/>
<rect x="144.2" y="1050" width="1.7" height="66" fill="#eeeeee"/><rect x="145.9" y="1050" width="0.8" height="60" fill="#cfcfcf" opacity="0.55"/>
<rect x="144.2" y="1114" width="1.7" height="34.5" fill="#dedede"/>
<rect x="153.0" y="1050" width="1.7" height="66" fill="#eeeeee"/><rect x="154.7" y="1050" width="0.8" height="60" fill="#cfcfcf" opacity="0.55"/>
<rect x="153.0" y="1114" width="1.7" height="34.5" fill="#dedede"/>
<rect x="161.7" y="1050" width="1.7" height="66" fill="#eeeeee"/><rect x="163.4" y="1050" width="0.8" height="60" fill="#cfcfcf" opacity="0.55"/>
<rect x="161.7" y="1114" width="1.7" height="34.5" fill="#dedede"/>
<rect x="170.5" y="1050" width="1.7" height="66" fill="#eeeeee"/><rect x="172.2" y="1050" width="0.8" height="60" fill="#cfcfcf" opacity="0.55"/>
<rect x="170.5" y="1114" width="1.7" height="34.5" fill="#dedede"/>
<rect x="179.3" y="1050" width="1.7" height="66" fill="#eeeeee"/><rect x="181.0" y="1050" width="0.8" height="60" fill="#cfcfcf" opacity="0.55"/>
<rect x="179.3" y="1114" width="1.7" height="34.5" fill="#dedede"/>
<rect x="188.0" y="1050" width="1.7" height="66" fill="#eeeeee"/><rect x="189.7" y="1050" width="0.8" height="60" fill="#cfcfcf" opacity="0.55"/>
<rect x="188.0" y="1114" width="1.7" height="34.5" fill="#dedede"/>
<path d="M214.9 1048H308.4V1106C308.4 1119 291.6 1128 261.6 1128C231.7 1128 214.9 1119 214.9 1106Z" fill="#e9e9e9"/>
<path d="M214.9 1048H308.4V1103C308.4 1115 291.6 1123.6 261.6 1123.6C231.7 1123.6 214.9 1115 214.9 1103Z" fill="url(#ufill)"/>
<rect x="258.0" y="1052.3" width="1.5" height="6" fill="#8c8c8c"/><rect x="264.2" y="1052.3" width="1.5" height="6" fill="#8c8c8c"/>
<rect x="231.7" y="1052.2" width="1.4" height="1.6" fill="#666"/><rect x="235.7" y="1052.2" width="1.4" height="1.6" fill="#666"/>
<rect x="285.2" y="1052.2" width="1.4" height="1.6" fill="#666"/><rect x="289.2" y="1052.2" width="1.4" height="1.6" fill="#666"/>
<rect x="217.0" y="1050" width="1.7" height="66" fill="#eeeeee"/><rect x="218.7" y="1050" width="0.8" height="60" fill="#cfcfcf" opacity="0.55"/>
<rect x="217.0" y="1114" width="1.7" height="34.5" fill="#dedede"/>
<rect x="225.7" y="1050" width="1.7" height="66" fill="#eeeeee"/><rect x="227.4" y="1050" width="0.8" height="60" fill="#cfcfcf" opacity="0.55"/>
<rect x="225.7" y="1114" width="1.7" height="34.5" fill="#dedede"/>
<rect x="234.5" y="1050" width="1.7" height="66" fill="#eeeeee"/><rect x="236.2" y="1050" width="0.8" height="60" fill="#cfcfcf" opacity="0.55"/>
<rect x="234.5" y="1114" width="1.7" height="34.5" fill="#dedede"/>
<rect x="243.3" y="1050" width="1.7" height="66" fill="#eeeeee"/><rect x="245.0" y="1050" width="0.8" height="60" fill="#cfcfcf" opacity="0.55"/>
<rect x="243.3" y="1114" width="1.7" height="34.5" fill="#dedede"/>
<rect x="252.0" y="1050" width="1.7" height="66" fill="#eeeeee"/><rect x="253.7" y="1050" width="0.8" height="60" fill="#cfcfcf" opacity="0.55"/>
<rect x="252.0" y="1114" width="1.7" height="34.5" fill="#dedede"/>
<rect x="260.8" y="1050" width="1.7" height="66" fill="#eeeeee"/><rect x="262.5" y="1050" width="0.8" height="60" fill="#cfcfcf" opacity="0.55"/>
<rect x="260.8" y="1114" width="1.7" height="34.5" fill="#dedede"/>
<rect x="269.6" y="1050" width="1.7" height="66" fill="#eeeeee"/><rect x="271.3" y="1050" width="0.8" height="60" fill="#cfcfcf" opacity="0.55"/>
<rect x="269.6" y="1114" width="1.7" height="34.5" fill="#dedede"/>
<rect x="278.3" y="1050" width="1.7" height="66" fill="#eeeeee"/><rect x="280.0" y="1050" width="0.8" height="60" fill="#cfcfcf" opacity="0.55"/>
<rect x="278.3" y="1114" width="1.7" height="34.5" fill="#dedede"/>
<rect x="287.1" y="1050" width="1.7" height="66" fill="#eeeeee"/><rect x="288.8" y="1050" width="0.8" height="60" fill="#cfcfcf" opacity="0.55"/>
<rect x="287.1" y="1114" width="1.7" height="34.5" fill="#dedede"/>
<rect x="295.9" y="1050" width="1.7" height="66" fill="#eeeeee"/><rect x="297.6" y="1050" width="0.8" height="60" fill="#cfcfcf" opacity="0.55"/>
<rect x="295.9" y="1114" width="1.7" height="34.5" fill="#dedede"/>
<rect x="304.6" y="1050" width="1.7" height="66" fill="#eeeeee"/><rect x="306.4" y="1050" width="0.8" height="60" fill="#cfcfcf" opacity="0.55"/>
<rect x="304.6" y="1114" width="1.7" height="34.5" fill="#dedede"/>
<path d="M333.9 1048H427.4V1106C427.4 1119 410.6 1128 380.6 1128C350.7 1128 333.9 1119 333.9 1106Z" fill="#e9e9e9"/>
<path d="M333.9 1048H427.4V1103C427.4 1115 410.6 1123.6 380.6 1123.6C350.7 1123.6 333.9 1115 333.9 1103Z" fill="url(#ufill)"/>
<rect x="377.0" y="1052.3" width="1.5" height="6" fill="#8c8c8c"/><rect x="383.2" y="1052.3" width="1.5" height="6" fill="#8c8c8c"/>
<rect x="350.8" y="1052.2" width="1.4" height="1.6" fill="#666"/><rect x="354.8" y="1052.2" width="1.4" height="1.6" fill="#666"/>
<rect x="404.2" y="1052.2" width="1.4" height="1.6" fill="#666"/><rect x="408.2" y="1052.2" width="1.4" height="1.6" fill="#666"/>
<rect x="335.9" y="1050" width="1.7" height="66" fill="#eeeeee"/><rect x="337.6" y="1050" width="0.8" height="60" fill="#cfcfcf" opacity="0.55"/>
<rect x="335.9" y="1114" width="1.7" height="34.5" fill="#dedede"/>
<rect x="344.7" y="1050" width="1.7" height="66" fill="#eeeeee"/><rect x="346.4" y="1050" width="0.8" height="60" fill="#cfcfcf" opacity="0.55"/>
<rect x="344.7" y="1114" width="1.7" height="34.5" fill="#dedede"/>
<rect x="353.5" y="1050" width="1.7" height="66" fill="#eeeeee"/><rect x="355.2" y="1050" width="0.8" height="60" fill="#cfcfcf" opacity="0.55"/>
<rect x="353.5" y="1114" width="1.7" height="34.5" fill="#dedede"/>
<rect x="362.3" y="1050" width="1.7" height="66" fill="#eeeeee"/><rect x="364.0" y="1050" width="0.8" height="60" fill="#cfcfcf" opacity="0.55"/>
<rect x="362.3" y="1114" width="1.7" height="34.5" fill="#dedede"/>
<rect x="371.0" y="1050" width="1.7" height="66" fill="#eeeeee"/><rect x="372.7" y="1050" width="0.8" height="60" fill="#cfcfcf" opacity="0.55"/>
<rect x="371.0" y="1114" width="1.7" height="34.5" fill="#dedede"/>
<rect x="379.8" y="1050" width="1.7" height="66" fill="#eeeeee"/><rect x="381.5" y="1050" width="0.8" height="60" fill="#cfcfcf" opacity="0.55"/>
<rect x="379.8" y="1114" width="1.7" height="34.5" fill="#dedede"/>
<rect x="388.6" y="1050" width="1.7" height="66" fill="#eeeeee"/><rect x="390.3" y="1050" width="0.8" height="60" fill="#cfcfcf" opacity="0.55"/>
<rect x="388.6" y="1114" width="1.7" height="34.5" fill="#dedede"/>
<rect x="397.3" y="1050" width="1.7" height="66" fill="#eeeeee"/><rect x="399.0" y="1050" width="0.8" height="60" fill="#cfcfcf" opacity="0.55"/>
<rect x="397.3" y="1114" width="1.7" height="34.5" fill="#dedede"/>
<rect x="406.1" y="1050" width="1.7" height="66" fill="#eeeeee"/><rect x="407.8" y="1050" width="0.8" height="60" fill="#cfcfcf" opacity="0.55"/>
<rect x="406.1" y="1114" width="1.7" height="34.5" fill="#dedede"/>
<rect x="414.9" y="1050" width="1.7" height="66" fill="#eeeeee"/><rect x="416.6" y="1050" width="0.8" height="60" fill="#cfcfcf" opacity="0.55"/>
<rect x="414.9" y="1114" width="1.7" height="34.5" fill="#dedede"/>
<rect x="423.6" y="1050" width="1.7" height="66" fill="#eeeeee"/><rect x="425.3" y="1050" width="0.8" height="60" fill="#cfcfcf" opacity="0.55"/>
<rect x="423.6" y="1114" width="1.7" height="34.5" fill="#dedede"/>
<path d="M450.4 1048H545.1V1106C545.1 1119 528.1 1128 497.8 1128C467.4 1128 450.4 1119 450.4 1106Z" fill="#e9e9e9"/>
<path d="M450.4 1048H545.1V1103C545.1 1115 528.1 1123.6 497.8 1123.6C467.4 1123.6 450.4 1115 450.4 1103Z" fill="url(#ufill)"/>
<rect x="494.1" y="1052.3" width="1.5" height="6" fill="#8c8c8c"/><rect x="500.4" y="1052.3" width="1.5" height="6" fill="#8c8c8c"/>
<rect x="467.9" y="1052.2" width="1.4" height="1.6" fill="#666"/><rect x="471.9" y="1052.2" width="1.4" height="1.6" fill="#666"/>
<rect x="521.4" y="1052.2" width="1.4" height="1.6" fill="#666"/><rect x="525.4" y="1052.2" width="1.4" height="1.6" fill="#666"/>
<rect x="452.4" y="1050" width="1.7" height="66" fill="#eeeeee"/><rect x="454.1" y="1050" width="0.8" height="60" fill="#cfcfcf" opacity="0.55"/>
<rect x="452.4" y="1114" width="1.7" height="34.5" fill="#dedede"/>
<rect x="461.2" y="1050" width="1.7" height="66" fill="#eeeeee"/><rect x="462.9" y="1050" width="0.8" height="60" fill="#cfcfcf" opacity="0.55"/>
<rect x="461.2" y="1114" width="1.7" height="34.5" fill="#dedede"/>
<rect x="470.0" y="1050" width="1.7" height="66" fill="#eeeeee"/><rect x="471.7" y="1050" width="0.8" height="60" fill="#cfcfcf" opacity="0.55"/>
<rect x="470.0" y="1114" width="1.7" height="34.5" fill="#dedede"/>
<rect x="478.8" y="1050" width="1.7" height="66" fill="#eeeeee"/><rect x="480.5" y="1050" width="0.8" height="60" fill="#cfcfcf" opacity="0.55"/>
<rect x="478.8" y="1114" width="1.7" height="34.5" fill="#dedede"/>
<rect x="487.5" y="1050" width="1.7" height="66" fill="#eeeeee"/><rect x="489.2" y="1050" width="0.8" height="60" fill="#cfcfcf" opacity="0.55"/>
<rect x="487.5" y="1114" width="1.7" height="34.5" fill="#dedede"/>
<rect x="496.3" y="1050" width="1.7" height="66" fill="#eeeeee"/><rect x="498.0" y="1050" width="0.8" height="60" fill="#cfcfcf" opacity="0.55"/>
<rect x="496.3" y="1114" width="1.7" height="34.5" fill="#dedede"/>
<rect x="505.1" y="1050" width="1.7" height="66" fill="#eeeeee"/><rect x="506.8" y="1050" width="0.8" height="60" fill="#cfcfcf" opacity="0.55"/>
<rect x="505.1" y="1114" width="1.7" height="34.5" fill="#dedede"/>
<rect x="513.8" y="1050" width="1.7" height="66" fill="#eeeeee"/><rect x="515.5" y="1050" width="0.8" height="60" fill="#cfcfcf" opacity="0.55"/>
<rect x="513.8" y="1114" width="1.7" height="34.5" fill="#dedede"/>
<rect x="522.6" y="1050" width="1.7" height="66" fill="#eeeeee"/><rect x="524.3" y="1050" width="0.8" height="60" fill="#cfcfcf" opacity="0.55"/>
<rect x="522.6" y="1114" width="1.7" height="34.5" fill="#dedede"/>
<rect x="531.4" y="1050" width="1.7" height="66" fill="#eeeeee"/><rect x="533.1" y="1050" width="0.8" height="60" fill="#cfcfcf" opacity="0.55"/>
<rect x="531.4" y="1114" width="1.7" height="34.5" fill="#dedede"/>
<rect x="540.1" y="1050" width="1.7" height="66" fill="#eeeeee"/><rect x="541.9" y="1050" width="0.8" height="60" fill="#cfcfcf" opacity="0.55"/>
<rect x="540.1" y="1114" width="1.7" height="34.5" fill="#dedede"/>
<path d="M568.2 1048H659.3V1106C659.3 1119 642.9 1128 613.8 1128C584.6 1128 568.2 1119 568.2 1106Z" fill="#e9e9e9"/>
<path d="M568.2 1048H659.3V1103C659.3 1115 642.9 1123.6 613.8 1123.6C584.6 1123.6 568.2 1115 568.2 1103Z" fill="url(#ufill)"/>
<rect x="610.1" y="1052.3" width="1.5" height="6" fill="#8c8c8c"/><rect x="616.4" y="1052.3" width="1.5" height="6" fill="#8c8c8c"/>
<rect x="583.9" y="1052.2" width="1.4" height="1.6" fill="#666"/><rect x="587.9" y="1052.2" width="1.4" height="1.6" fill="#666"/>
<rect x="637.4" y="1052.2" width="1.4" height="1.6" fill="#666"/><rect x="641.4" y="1052.2" width="1.4" height="1.6" fill="#666"/>
<rect x="570.2" y="1050" width="1.7" height="66" fill="#eeeeee"/><rect x="572.0" y="1050" width="0.8" height="60" fill="#cfcfcf" opacity="0.55"/>
<rect x="570.2" y="1114" width="1.7" height="34.5" fill="#dedede"/>
<rect x="579.0" y="1050" width="1.7" height="66" fill="#eeeeee"/><rect x="580.7" y="1050" width="0.8" height="60" fill="#cfcfcf" opacity="0.55"/>
<rect x="579.0" y="1114" width="1.7" height="34.5" fill="#dedede"/>
<rect x="587.8" y="1050" width="1.7" height="66" fill="#eeeeee"/><rect x="589.5" y="1050" width="0.8" height="60" fill="#cfcfcf" opacity="0.55"/>
<rect x="587.8" y="1114" width="1.7" height="34.5" fill="#dedede"/>
<rect x="596.6" y="1050" width="1.7" height="66" fill="#eeeeee"/><rect x="598.3" y="1050" width="0.8" height="60" fill="#cfcfcf" opacity="0.55"/>
<rect x="596.6" y="1114" width="1.7" height="34.5" fill="#dedede"/>
<rect x="605.3" y="1050" width="1.7" height="66" fill="#eeeeee"/><rect x="607.0" y="1050" width="0.8" height="60" fill="#cfcfcf" opacity="0.55"/>
<rect x="605.3" y="1114" width="1.7" height="34.5" fill="#dedede"/>
<rect x="614.1" y="1050" width="1.7" height="66" fill="#eeeeee"/><rect x="615.8" y="1050" width="0.8" height="60" fill="#cfcfcf" opacity="0.55"/>
<rect x="614.1" y="1114" width="1.7" height="34.5" fill="#dedede"/>
<rect x="622.9" y="1050" width="1.7" height="66" fill="#eeeeee"/><rect x="624.6" y="1050" width="0.8" height="60" fill="#cfcfcf" opacity="0.55"/>
<rect x="622.9" y="1114" width="1.7" height="34.5" fill="#dedede"/>
<rect x="631.6" y="1050" width="1.7" height="66" fill="#eeeeee"/><rect x="633.3" y="1050" width="0.8" height="60" fill="#cfcfcf" opacity="0.55"/>
<rect x="631.6" y="1114" width="1.7" height="34.5" fill="#dedede"/>
<rect x="640.4" y="1050" width="1.7" height="66" fill="#eeeeee"/><rect x="642.1" y="1050" width="0.8" height="60" fill="#cfcfcf" opacity="0.55"/>
<rect x="640.4" y="1114" width="1.7" height="34.5" fill="#dedede"/>
<rect x="649.2" y="1050" width="1.7" height="66" fill="#eeeeee"/><rect x="650.9" y="1050" width="0.8" height="60" fill="#cfcfcf" opacity="0.55"/>
<rect x="649.2" y="1114" width="1.7" height="34.5" fill="#dedede"/>
<rect x="657.9" y="1050" width="1.7" height="66" fill="#eeeeee"/><rect x="659.6" y="1050" width="0.8" height="60" fill="#cfcfcf" opacity="0.55"/>
<rect x="657.9" y="1114" width="1.7" height="34.5" fill="#dedede"/>
<rect x="196.2" y="1056" width="1.6" height="55" fill="#bdbdbd"/>
<rect x="202.6" y="1056" width="1.6" height="55" fill="#bdbdbd"/>
<rect x="209.0" y="1056" width="1.6" height="55" fill="#bdbdbd"/>
<path d="M195.4 1110L198.4 1101L199.4 1110ZM201.8 1110L204.9 1100L205.8 1110ZM208.0 1110L211.0 1101L212.0 1110Z" fill="#f2f2f2"/>
<rect x="549.5" y="1056" width="1.6" height="55" fill="#bdbdbd"/>
<rect x="555.9" y="1056" width="1.6" height="55" fill="#bdbdbd"/>
<rect x="562.3" y="1056" width="1.6" height="55" fill="#bdbdbd"/>
<path d="M548.7 1110L551.7 1101L552.7 1110ZM555.1 1110L558.2 1100L559.1 1110ZM561.3 1110L564.3 1101L565.3 1110Z" fill="#f2f2f2"/>
<path d="M541 1100H551V1122Q551 1124 549 1124H541Z" fill="#e8e8e8"/><circle cx="546" cy="1110.5" r="2.2" fill="#8a8a8a"/>
<path d="M92.2 870.9H665.4L692 894H64.3Z" fill="url(#blid)"/>
<path d="M92.2 870.9H665.4" stroke="#e4e4e4" stroke-width="0.8"/>
<rect x="92.0" y="870.9" width="15" height="2.5" rx="1.25" fill="#9c9c9c" filter="url(#b05)"/>
<rect x="144.2" y="868.7" width="15" height="2.5" rx="1.25" fill="#9c9c9c" filter="url(#b05)"/>
<rect x="294.8" y="868.7" width="15" height="2.5" rx="1.25" fill="#9c9c9c" filter="url(#b05)"/>
<rect x="82.3" y="879.0" width="15" height="2.5" rx="1.25" fill="#9c9c9c" filter="url(#b05)"/>
<rect x="71.4" y="887.5" width="15" height="2.5" rx="1.25" fill="#9c9c9c" filter="url(#b05)"/>
<rect x="121.1" y="890.1" width="15" height="2.5" rx="1.25" fill="#9c9c9c" filter="url(#b05)"/>
<rect x="287.5" y="890.1" width="15" height="2.5" rx="1.25" fill="#9c9c9c" filter="url(#b05)"/>
<rect x="446.5" y="869.0" width="15" height="2.5" rx="1.25" fill="#9c9c9c" filter="url(#b05)"/>
<rect x="597.9" y="869.0" width="15" height="2.5" rx="1.25" fill="#9c9c9c" filter="url(#b05)"/>
<rect x="649.4" y="870.9" width="15" height="2.5" rx="1.25" fill="#9c9c9c" filter="url(#b05)"/>
<rect x="453.9" y="890.4" width="15" height="2.5" rx="1.25" fill="#9c9c9c" filter="url(#b05)"/>
<rect x="620.2" y="890.4" width="15" height="2.5" rx="1.25" fill="#9c9c9c" filter="url(#b05)"/>
<rect x="659.1" y="879.0" width="15" height="2.5" rx="1.25" fill="#9c9c9c" filter="url(#b05)"/>
<rect x="669.3" y="887.5" width="15" height="2.5" rx="1.25" fill="#9c9c9c" filter="url(#b05)"/>
<path d="M285 879.4H471.6L473.5 885.4H283Z" fill="#dadada"/><rect x="347.6" y="880.4" width="61.4" height="3" fill="#fbfbfb"/>
<rect x="64.3" y="894" width="627.7" height="16.7" fill="url(#bstrip)"/>
<rect x="64.3" y="909.6" width="627.7" height="1.4" fill="#c2c2c2"/>
<circle cx="91" cy="902" r="2.9" fill="#101010"/>
<circle cx="205.9" cy="902" r="2.9" fill="#101010"/>
<circle cx="321" cy="902" r="2.9" fill="#101010"/>
<circle cx="435.9" cy="902" r="2.9" fill="#101010"/>
<circle cx="550.7" cy="902" r="2.9" fill="#101010"/>
<circle cx="665.8" cy="902" r="2.9" fill="#101010"/>
<rect x="64.3" y="911" width="627.7" height="137.5" fill="url(#bpanel)"/>
<rect x="64.3" y="1046.5" width="627.7" height="2.2" fill="#bfbfbf"/>
<rect x="61.4" y="931.6" width="17.6" height="249" fill="url(#brk)"/>
<rect x="79.4" y="933" width="5.2" height="232.5" fill="#3b3b3b"/>
<rect x="84.4" y="931.6" width="11" height="234" fill="#e5e5e5"/><rect x="94.6" y="933" width="0.9" height="232" fill="#c4c4c4"/>
<rect x="61.4" y="931.6" width="34.8" height="2.6" fill="#f4f4f4"/>
<rect x="80" y="1150" width="16" height="15.5" fill="#9c9c9c" opacity="0.8"/>
<use href="#bscr" x="89.6" y="951"/>
<use href="#bscr" x="89.6" y="984.6"/>
<use href="#bscr" x="89.6" y="1016.6"/>
<circle cx="90.3" cy="1048.4" r="1.6" fill="#707070"/>
<rect x="677.2" y="931" width="18.4" height="249.5" fill="url(#brkR)"/>
<rect x="671.8" y="933.3" width="5.6" height="232.2" fill="#303030"/>
<rect x="660.6" y="930.4" width="11" height="235" fill="#e3e3e3"/><rect x="660.4" y="933" width="0.9" height="232" fill="#c0c0c0"/>
<rect x="660.6" y="930.4" width="11.4" height="2" fill="#ececec"/>
<rect x="660.6" y="1150" width="17" height="15.5" fill="#9c9c9c" opacity="0.8"/>
<use href="#sscr" x="667.4" y="951"/>
<use href="#sscr" x="667.4" y="984.6"/>
<use href="#sscr" x="667.4" y="1016.6"/>
<circle cx="666.6" cy="1048.4" r="1.6" fill="#707070"/>
<rect x="79" y="1165.2" width="600" height="15.3" fill="#e9e9e9"/><rect x="79" y="1179" width="600" height="1.5" fill="#c9c9c9"/><rect x="79" y="1165.2" width="600" height="1" fill="#f8f8f8"/>
<path d="M301.8 1165H454V1184.6H301.8Z" fill="#f1f1f1"/><path d="M301.8 1183.4H454V1184.8H301.8Z" fill="#dcdcdc"/>
<circle cx="319.3" cy="1173.2" r="2.6" fill="#fbfbfb" stroke="#8a8a8a" stroke-width="0.7"/><path d="M318.0 1173.2h2.6M319.3 1171.9v2.6" stroke="#555" stroke-width="0.6"/>
<circle cx="437" cy="1173.2" r="2.6" fill="#fbfbfb" stroke="#8a8a8a" stroke-width="0.7"/><path d="M435.7 1173.2h2.6M437 1171.9v2.6" stroke="#555" stroke-width="0.6"/>
<circle cx="134.7" cy="964.4" r="15.9" fill="url(#knob)"/>
<path d="M131.7 946.0Q134.7 945.0 137.7 946.0L140.0 982.0Q134.7 983.8 129.39999999999998 982.0Z" fill="#3e3e3e" stroke="#262626" stroke-width="0.8"/>
<text x="135.1" y="943.1999999999999" text-anchor="middle" font-family="'Liberation Sans',sans-serif" font-weight="bold" fill="#363636" stroke="#363636" stroke-width="0.25" font-size="6.7" textLength="14.4" lengthAdjust="spacingAndGlyphs">OFF</text>
<text x="160.2" y="966.4" text-anchor="middle" font-family="'Liberation Sans',sans-serif" font-weight="bold" fill="#363636" stroke="#363636" stroke-width="0.25" font-size="6.7" textLength="10.6" lengthAdjust="spacingAndGlyphs">ON</text>
<path d="M145.6 942.6Q154.7 946.4 159.0 957.1" fill="none" stroke="#3a3a3a" stroke-width="0.9"/>
<text x="135.6" y="991.5" text-anchor="middle" font-family="'Liberation Sans',sans-serif" font-weight="bold" fill="#363636" stroke="#363636" stroke-width="0.25" font-size="7.3" textLength="47.2" lengthAdjust="spacingAndGlyphs">DC SWITCH1</text>
<circle cx="415.2" cy="964.4" r="15.9" fill="url(#knob)"/>
<path d="M412.2 946.0Q415.2 945.0 418.2 946.0L420.5 982.0Q415.2 983.8 409.9 982.0Z" fill="#3e3e3e" stroke="#262626" stroke-width="0.8"/>
<text x="415.59999999999997" y="943.1999999999999" text-anchor="middle" font-family="'Liberation Sans',sans-serif" font-weight="bold" fill="#363636" stroke="#363636" stroke-width="0.25" font-size="6.7" textLength="14.4" lengthAdjust="spacingAndGlyphs">OFF</text>
<text x="440.7" y="966.4" text-anchor="middle" font-family="'Liberation Sans',sans-serif" font-weight="bold" fill="#363636" stroke="#363636" stroke-width="0.25" font-size="6.7" textLength="10.6" lengthAdjust="spacingAndGlyphs">ON</text>
<path d="M426.09999999999997 942.6Q435.2 946.4 439.5 957.1" fill="none" stroke="#3a3a3a" stroke-width="0.9"/>
<text x="415.2" y="991.5" text-anchor="middle" font-family="'Liberation Sans',sans-serif" font-weight="bold" fill="#363636" stroke="#363636" stroke-width="0.25" font-size="7.3" textLength="47.2" lengthAdjust="spacingAndGlyphs">DC SWITCH2</text>
<polygon points="123.4,1011.6 120.3,1017.0 114.1,1017.0 111.0,1011.6 114.1,1006.2 120.3,1006.2" fill="#363636" stroke="#363636" stroke-width="3.4" stroke-linejoin="round"/>
<polygon points="159.6,1011.0 156.5,1016.4 150.3,1016.4 147.2,1011.0 150.3,1005.6 156.5,1005.6" fill="#363636" stroke="#363636" stroke-width="3.4" stroke-linejoin="round"/>
<rect x="168.7" y="921.9" width="51.3" height="98.9" rx="4" fill="#000" fill-opacity="0.045" stroke="#3a3a3a" stroke-width="0.9"/>
<rect x="184.8" y="919.5" width="19.2" height="5" fill="#dbdbdb"/>
<text x="194.3" y="924.6" text-anchor="middle" font-family="'Liberation Sans',sans-serif" font-weight="bold" fill="#363636" stroke="#363636" stroke-width="0.25" font-size="7.4" textLength="15.6" lengthAdjust="spacingAndGlyphs">DC1</text>
<path d="M178.4 929.9h4.4M180.6 927.7v4.4M205.4 929.9h4.4" stroke="#333" stroke-width="1"/>
<use href="#dcp" x="180.6" y="942.6"/><use href="#dcc" x="207.6" y="942.6"/>
<use href="#dcp" x="180.6" y="964.9"/><use href="#dcc" x="207.6" y="964.9"/>
<path d="M178.6 954.1h4M180.6 952.1v4M205.6 954.1h4" stroke="#555" stroke-width="0.9"/>
<use href="#dcp" x="180.6" y="986.5"/><use href="#dcc" x="207.6" y="986.5"/>
<path d="M178.6 975.7h4M180.6 973.7v4M205.6 975.7h4" stroke="#555" stroke-width="0.9"/>
<use href="#dcp" x="180.6" y="1008.1"/><use href="#dcc" x="207.6" y="1008.1"/>
<path d="M178.6 997.3000000000001h4M180.6 995.3000000000001v4M205.6 997.3000000000001h4" stroke="#555" stroke-width="0.9"/>
<rect x="222.5" y="921.9" width="51.3" height="98.9" rx="4" fill="#000" fill-opacity="0.045" stroke="#3a3a3a" stroke-width="0.9"/>
<rect x="238.6" y="919.5" width="19.2" height="5" fill="#dbdbdb"/>
<text x="248.2" y="924.6" text-anchor="middle" font-family="'Liberation Sans',sans-serif" font-weight="bold" fill="#363636" stroke="#363636" stroke-width="0.25" font-size="7.4" textLength="15.6" lengthAdjust="spacingAndGlyphs">DC2</text>
<path d="M232.2 929.9h4.4M234.4 927.7v4.4M259.2 929.9h4.4" stroke="#333" stroke-width="1"/>
<use href="#dcp" x="234.4" y="942.6"/><use href="#dcc" x="261.4" y="942.6"/>
<use href="#dcp" x="234.4" y="964.9"/><use href="#dcc" x="261.4" y="964.9"/>
<path d="M232.4 954.1h4M234.4 952.1v4M259.4 954.1h4" stroke="#555" stroke-width="0.9"/>
<use href="#dcp" x="234.4" y="986.5"/><use href="#dcc" x="261.4" y="986.5"/>
<path d="M232.4 975.7h4M234.4 973.7v4M259.4 975.7h4" stroke="#555" stroke-width="0.9"/>
<use href="#dcp" x="234.4" y="1008.1"/><use href="#dcc" x="261.4" y="1008.1"/>
<path d="M232.4 997.3000000000001h4M234.4 995.3000000000001v4M259.4 997.3000000000001h4" stroke="#555" stroke-width="0.9"/>
<rect x="276.4" y="921.9" width="51.3" height="98.9" rx="4" fill="#000" fill-opacity="0.045" stroke="#3a3a3a" stroke-width="0.9"/>
<rect x="292.4" y="919.5" width="19.2" height="5" fill="#dbdbdb"/>
<text x="302.0" y="924.6" text-anchor="middle" font-family="'Liberation Sans',sans-serif" font-weight="bold" fill="#363636" stroke="#363636" stroke-width="0.25" font-size="7.4" textLength="15.6" lengthAdjust="spacingAndGlyphs">DC3</text>
<path d="M286.1 929.9h4.4M288.3 927.7v4.4M313.1 929.9h4.4" stroke="#333" stroke-width="1"/>
<use href="#dcp" x="288.3" y="942.6"/><use href="#dcc" x="315.3" y="942.6"/>
<use href="#dcp" x="288.3" y="964.9"/><use href="#dcc" x="315.3" y="964.9"/>
<path d="M286.3 954.1h4M288.3 952.1v4M313.3 954.1h4" stroke="#555" stroke-width="0.9"/>
<use href="#dcp" x="288.3" y="986.5"/><use href="#dcc" x="315.3" y="986.5"/>
<path d="M286.3 975.7h4M288.3 973.7v4M313.3 975.7h4" stroke="#555" stroke-width="0.9"/>
<use href="#dcp" x="288.3" y="1008.1"/><use href="#dcc" x="315.3" y="1008.1"/>
<path d="M286.3 997.3000000000001h4M288.3 995.3000000000001v4M313.3 997.3000000000001h4" stroke="#555" stroke-width="0.9"/>
<rect x="330.2" y="921.9" width="51.3" height="98.9" rx="4" fill="#000" fill-opacity="0.045" stroke="#3a3a3a" stroke-width="0.9"/>
<rect x="346.3" y="919.5" width="19.2" height="5" fill="#dbdbdb"/>
<text x="355.9" y="924.6" text-anchor="middle" font-family="'Liberation Sans',sans-serif" font-weight="bold" fill="#363636" stroke="#363636" stroke-width="0.25" font-size="7.4" textLength="15.6" lengthAdjust="spacingAndGlyphs">DC4</text>
<path d="M339.9 929.9h4.4M342.1 927.7v4.4M366.9 929.9h4.4" stroke="#333" stroke-width="1"/>
<use href="#dcp" x="342.1" y="942.6"/><use href="#dcc" x="369.1" y="942.6"/>
<use href="#dcp" x="342.1" y="964.9"/><use href="#dcc" x="369.1" y="964.9"/>
<path d="M340.1 954.1h4M342.1 952.1v4M367.1 954.1h4" stroke="#555" stroke-width="0.9"/>
<use href="#dcp" x="342.1" y="986.5"/><use href="#dcc" x="369.1" y="986.5"/>
<path d="M340.1 975.7h4M342.1 973.7v4M367.1 975.7h4" stroke="#555" stroke-width="0.9"/>
<use href="#dcp" x="342.1" y="1008.1"/><use href="#dcc" x="369.1" y="1008.1"/>
<path d="M340.1 997.3000000000001h4M342.1 995.3000000000001v4M367.1 997.3000000000001h4" stroke="#555" stroke-width="0.9"/>
<use href="#rnd" x="304" y="1035.8"/>
<use href="#rnd" x="335.1" y="1035.8"/>
<use href="#rnd" x="452.9" y="1035.8"/>
<use href="#plug" x="400.6" y="1010.6"/>
<text x="401.0" y="1027.8" text-anchor="middle" font-family="'Liberation Sans',sans-serif" font-weight="bold" fill="#363636" stroke="#363636" stroke-width="0.25" font-size="5.6" textLength="23.8" lengthAdjust="spacingAndGlyphs">RS485-1</text>
<use href="#plug" x="429.3" y="1010.6"/>
<text x="429.7" y="1027.8" text-anchor="middle" font-family="'Liberation Sans',sans-serif" font-weight="bold" fill="#363636" stroke="#363636" stroke-width="0.25" font-size="5.6" textLength="23.8" lengthAdjust="spacingAndGlyphs">RS485-2</text>
<circle cx="477.1" cy="1034.9" r="4.6" fill="none" stroke="#555" stroke-width="0.7"/><path d="M477.1 1031.6v3M474.5 1034.6h5.2M475.4 1036h3.4M476.3 1037.4h1.6" stroke="#555" stroke-width="0.7"/>
<circle cx="490.5" cy="1034.9" r="2.5" fill="#1c1c1c"/>
<use href="#plug" x="479.1" y="929.7"/>
<text x="479.3" y="919.4" text-anchor="middle" font-family="'Liberation Sans',sans-serif" font-weight="bold" fill="#363636" stroke="#363636" stroke-width="0.25" font-size="6.2" textLength="22.6" lengthAdjust="spacingAndGlyphs">limiter1</text>
<use href="#plug" x="505.8" y="929.7"/>
<text x="506.0" y="919.4" text-anchor="middle" font-family="'Liberation Sans',sans-serif" font-weight="bold" fill="#363636" stroke="#363636" stroke-width="0.25" font-size="6.2" textLength="22.6" lengthAdjust="spacingAndGlyphs">limiter2</text>
<rect x="462.1" y="942.6" width="35" height="69.9" rx="1.5" fill="#c2c2c2" stroke="#b0b0b0" stroke-width="0.6"/>
<path d="M479.4 945.6L493.8 959V996L479.4 1009.4L465 996V959Z" fill="#262626"/>
<rect x="466.5" y="958" width="26" height="38" rx="2" fill="#2d2d2d"/><rect x="476.2" y="974" width="6.4" height="13" rx="3" fill="#1c1c1c"/>
<circle cx="479.3" cy="950.3" r="3.3" fill="#d8d8d8"/><circle cx="478.8" cy="949.8" r="1.6" fill="#fff"/>
<circle cx="479.3" cy="1004.5" r="3.3" fill="#d8d8d8"/><circle cx="478.8" cy="1004.0" r="1.6" fill="#fff"/>
<circle cx="465.3" cy="946.4" r="1.7" fill="#e6e6e6"/>
<circle cx="493.8" cy="946.4" r="1.7" fill="#e6e6e6"/>
<circle cx="465.3" cy="1008.6" r="1.7" fill="#e6e6e6"/>
<circle cx="493.8" cy="1008.6" r="1.7" fill="#e6e6e6"/>
<text x="479" y="1022.8" text-anchor="middle" font-family="'Liberation Sans',sans-serif" font-weight="bold" fill="#363636" stroke="#363636" stroke-width="0.25" font-size="7.6" textLength="40" lengthAdjust="spacingAndGlyphs">RS232/485</text>
<rect x="517.9" y="932.4" width="121.5" height="98.8" rx="1.5" fill="#c6c6c6"/>
<rect x="517.9" y="932.4" width="121.5" height="98.8" rx="1.5" fill="none" stroke="#b4b4b4" stroke-width="0.8"/>
<use href="#sscr" x="522.8" y="937.2"/>
<use href="#sscr" x="578.7" y="937.2"/>
<use href="#sscr" x="634.5" y="937.2"/>
<use href="#sscr" x="522.8" y="981.4"/>
<use href="#sscr" x="635" y="981.4"/>
<use href="#sscr" x="522.8" y="1026.4"/>
<use href="#sscr" x="634.5" y="1026.4"/>
<rect x="528.6" y="942.6" width="105.9" height="87.4" rx="2.5" fill="url(#wbox)"/>
<rect x="528.6" y="1028" width="105.9" height="2.4" rx="1.2" fill="#d4d4d4"/>
<circle cx="586" cy="992.5" r="26.2" fill="#3d3d3d"/>
<circle cx="584" cy="990.7" r="26.2" fill="url(#knob)"/>
</g>
<!--/BOTTOMUNIT-->
</svg>
</body>
</html>
